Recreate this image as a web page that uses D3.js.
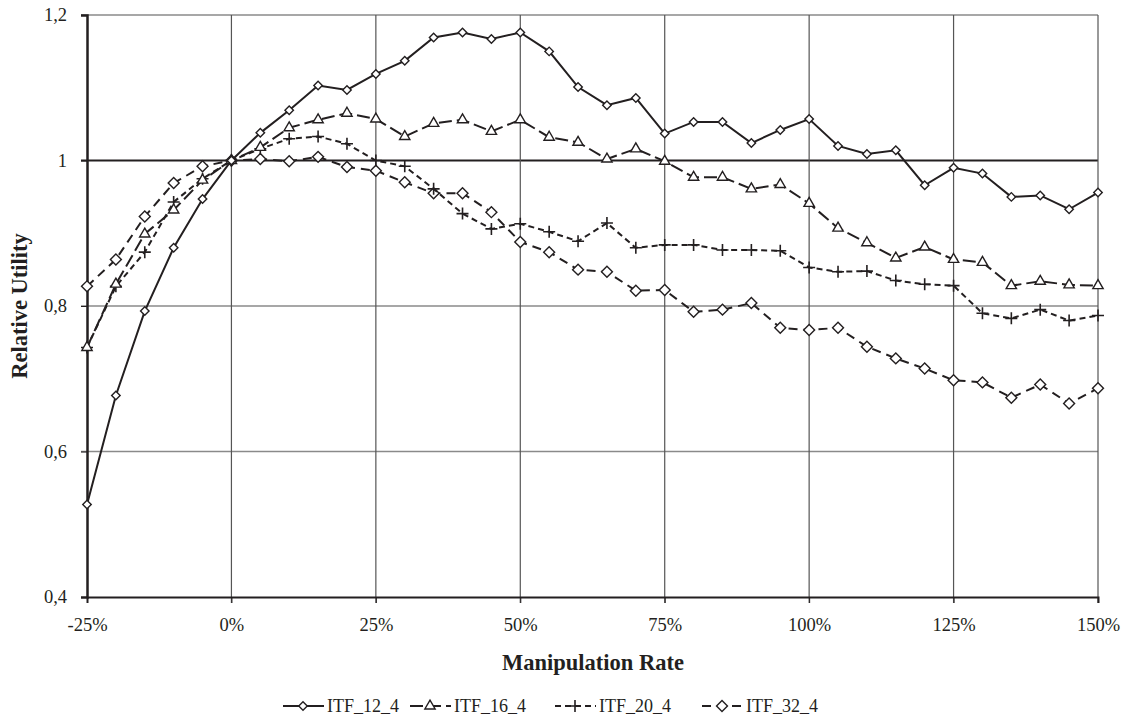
<!DOCTYPE html>
<html>
<head>
<meta charset="utf-8">
<script src="https://cdn.jsdelivr.net/npm/d3@7"></script>
<style>
body { margin:0; background:#fff; }
text { font-family: "Liberation Serif", "DejaVu Serif", serif; fill:#231f20; }
</style>
</head>
<body>
<div id="chart"></div>
<script>
const w = 1129;
const h = 727;
const padL = 87, padR = 1098, padT = 15, padB = 597;

// manipulation rates (%)
const rates = [-25,-20,-15,-10,-5,0,5,10,15,20,25,30,35,40,45,50,55,60,65,70,75,80,85,90,95,100,105,110,115,120,125,130,135,140,145,150];
const xTicks = [-25,0,25,50,75,100,125,150];
const yTicks = [0.4,0.6,0.8,1.0,1.2];

const itf12 = [0.527,0.677,0.793,0.880,0.947,1.0,1.038,1.069,1.103,1.097,1.119,1.137,1.169,1.176,1.167,1.176,1.150,1.101,1.076,1.086,1.037,1.053,1.053,1.024,1.042,1.057,1.020,1.009,1.014,0.966,0.990,0.982,0.950,0.952,0.933,0.956];
const itf16 = [0.743,0.830,0.899,0.932,0.973,1.0,1.018,1.045,1.056,1.065,1.057,1.033,1.051,1.056,1.040,1.056,1.032,1.025,1.002,1.016,0.999,0.977,0.977,0.961,0.967,0.941,0.907,0.887,0.866,0.881,0.864,0.860,0.828,0.834,0.829,0.828];
const itf20 = [0.743,0.827,0.874,0.943,0.975,1.0,1.016,1.030,1.033,1.023,1.0,0.992,0.961,0.927,0.906,0.913,0.902,0.889,0.914,0.880,0.884,0.884,0.877,0.877,0.876,0.853,0.847,0.848,0.835,0.830,0.828,0.790,0.783,0.795,0.780,0.787];
const itf32 = [0.827,0.864,0.923,0.969,0.992,1.0,1.002,0.999,1.005,0.991,0.986,0.970,0.955,0.955,0.929,0.888,0.874,0.850,0.847,0.821,0.822,0.792,0.795,0.804,0.770,0.767,0.770,0.744,0.728,0.714,0.698,0.695,0.674,0.692,0.666,0.687];

const names = ['ITF_12_4','ITF_16_4','ITF_20_4','ITF_32_4'];
const series = [
  {name: names[0], values: itf12, dash: null, marker: 'diamond', size: 36},
  {name: names[1], values: itf16, dash: '13,5', marker: 'triangle', size: 46},
  {name: names[2], values: itf20, dash: '6,4', marker: 'plus', size: 10},
  {name: names[3], values: itf32, dash: '9,6', marker: 'diamond', size: 60}
];

const svg = d3.select('#chart').append('svg')
  .attr('width', w).attr('height', h);

const x = d3.scaleLinear().domain([-25,150]).range([padL,padR]);
const y = d3.scaleLinear().domain([0.4,1.2]).range([padB,padT]);

// grid
svg.append('g').selectAll('line').data(yTicks.filter(d => d > 0.4))
  .enter().append('line')
  .attr('x1', padL - 6).attr('x2', padR)
  .attr('y1', d => y(d)).attr('y2', d => y(d))
  .attr('stroke', d => d === 1.0 ? '#231f20' : '#8a8a8a')
  .attr('stroke-width', d => d === 1.0 ? 2 : 1.5);

svg.append('g').selectAll('line').data(xTicks.filter(d => d > -25))
  .enter().append('line')
  .attr('x1', d => x(d)).attr('x2', d => x(d))
  .attr('y1', padT).attr('y2', padB + 6)
  .attr('stroke', '#555').attr('stroke-width', 1.2);

// axes
const xAxis = d3.axisBottom(x).tickValues(xTicks).tickSize(6).tickFormat(d => d + '%');
const yAxis = d3.axisLeft(y).tickValues(yTicks).tickSize(6).tickFormat(d => d3.format('.1f')(d).replace('.', ',').replace(/^1,0$/, '1'));

const gx = svg.append('g').attr('transform', `translate(0,${padB})`).call(xAxis);
gx.select('.domain').attr('stroke', '#231f20').attr('stroke-width', 2);
gx.selectAll('.tick line').attr('stroke', '#231f20');
gx.selectAll('text').attr('font-size', 18.5).attr('dy', 0).attr('y', 34)
  .attr('font-family', 'Liberation Serif').attr('fill', '#231f20');

const gy = svg.append('g').attr('transform', `translate(${padL},0)`).call(yAxis);
gy.select('.domain').attr('stroke', '#231f20').attr('stroke-width', 2.5);
gy.selectAll('.tick line').attr('stroke', '#231f20');
gy.selectAll('text').attr('font-size', 18.5).attr('x', -20)
  .attr('font-family', 'Liberation Serif').attr('fill', '#231f20');

// axis titles
svg.append('text')
  .attr('transform', `translate(27,${(padT + padB) / 2}) rotate(-90)`)
  .attr('text-anchor', 'middle')
  .attr('font-size', 22.5).attr('font-weight', 'bold')
  .text('Relative Utility');
svg.append('text')
  .attr('x', 593).attr('y', 670)
  .attr('text-anchor', 'middle')
  .attr('font-size', 22.5).attr('font-weight', 'bold')
  .text('Manipulation Rate');

// markers
const symbolFor = s => {
  if (s.marker === 'triangle') return d3.symbol(d3.symbolTriangle, s.size)();
  if (s.marker === 'diamond') return d3.symbol(d3.symbolSquare, s.size)();
  return null;
};
function drawMarker(g, s, cx, cy) {
  if (s.marker === 'plus') {
    g.append('path')
      .attr('d', `M${cx - 6},${cy}H${cx + 6}M${cx},${cy - 6}V${cy + 6}`)
      .attr('stroke', '#231f20').attr('stroke-width', 1.6).attr('fill', 'none');
  } else {
    const rot = s.marker === 'diamond' ? ' rotate(45)' : '';
    g.append('path')
      .attr('d', symbolFor(s))
      .attr('transform', `translate(${cx},${cy})${rot}`)
      .attr('fill', '#fff').attr('stroke', '#231f20').attr('stroke-width', 1.4);
  }
}

const line = d3.line().x((d, i) => x(rates[i])).y(d => y(d));

// draw in reverse so ITF_12_4 is on top
series.slice().reverse().forEach(s => {
  const g = svg.append('g');
  g.append('path')
    .datum(s.values)
    .attr('d', line)
    .attr('fill', 'none')
    .attr('stroke', '#231f20')
    .attr('stroke-width', 2)
    .attr('stroke-dasharray', s.dash);
  s.values.forEach((v, i) => drawMarker(g, s, x(rates[i]), y(v)));
});

// legend
const legendX = [283, 410, 555, 702];
const legendY = 706;
series.forEach((s, i) => {
  const g = svg.append('g');
  const x0 = legendX[i];
  g.append('line')
    .attr('x1', x0).attr('x2', x0 + 41)
    .attr('y1', legendY).attr('y2', legendY)
    .attr('stroke', '#231f20').attr('stroke-width', 2)
    .attr('stroke-dasharray', s.dash);
  drawMarker(g, s, x0 + 20, legendY);
  g.append('text')
    .attr('x', x0 + 44).attr('y', legendY + 6)
    .attr('font-size', 18)
    .text(s.name);
});
</script>
</body>
</html>
